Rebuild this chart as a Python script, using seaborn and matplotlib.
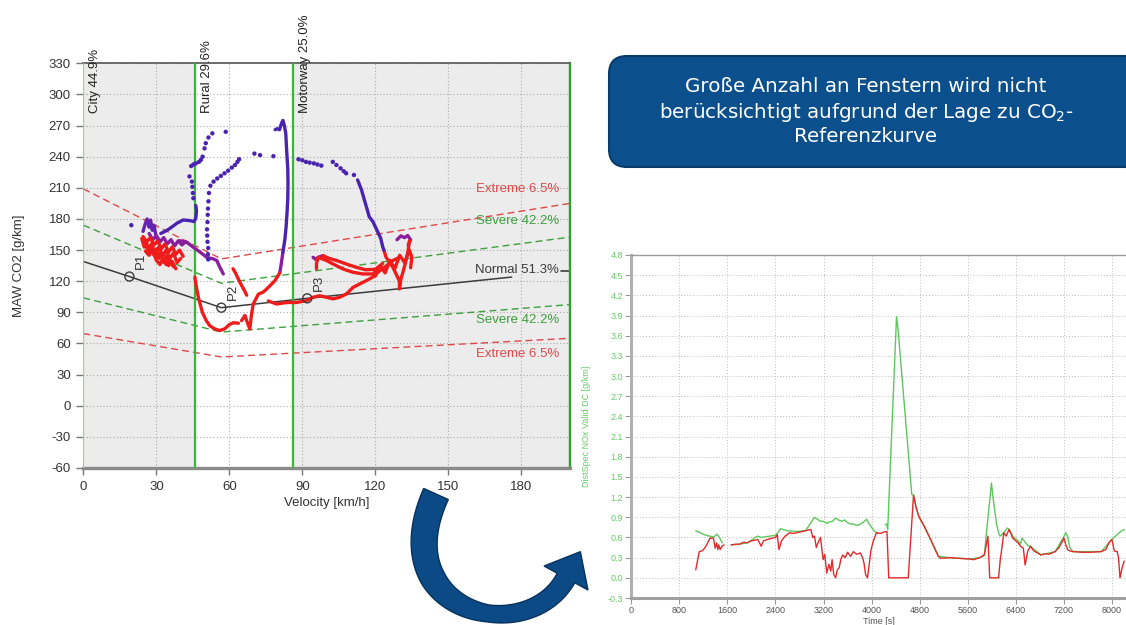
import numpy as np
import pandas as pd
import matplotlib
matplotlib.use("Agg")
import matplotlib.pyplot as plt
from matplotlib.patches import FancyBboxPatch, Polygon
import seaborn as sns

# ---------------- CO2 moving-average windows (velocity vs. CO2) ----------------
zone_edges = [0, 46, 86, 200]
zone_names = ["City", "Rural", "Motorway"]
zone_shares = [44.9, 29.6, 25.0]

band_vel = [0, 56.7, 200]
extreme_hi = [209, 141.5, 195]
severe_hi = [174, 118, 162.5]
severe_lo = [104, 71, 97.5]
extreme_lo = [69.5, 47, 65]

normal_vel = [0, 18.9, 56.7, 92.0, 176]
normal_co2 = [139, 124.5, 94.5, 103.5, 124]

point_names = ["P1", "P2", "P3"]
point_vel = [18.9, 56.7, 92.0]
point_co2 = [124.5, 94.5, 103.5]

band_label_names = ["Extreme", "Severe", "Normal", "Severe", "Extreme"]
band_label_shares = [6.5, 42.2, 51.3, 42.2, 6.5]
band_label_co2 = [209, 178.5, 130.5, 82.8, 50.2]

# window traces: (velocity km/h, CO2 g/km)
city_spike = [(24.5, 168), (25.5, 176), (26.2, 180), (27, 172), (27.6, 179), (28.3, 169),
              (29, 174), (29.8, 164), (30.5, 160)]
city_red_a = [(24, 161), (25, 153), (26, 157), (27, 148), (28, 154), (29, 145), (30, 151),
              (31, 142), (32, 148), (33, 138), (34, 144), (35, 135), (36.5, 139), (38, 132)]
city_red_b = [(24.5, 163), (26, 158), (27.5, 162), (29, 155), (30.5, 159), (32, 151),
              (33.5, 156), (35, 148), (36.5, 153), (38, 146), (39.5, 150), (41, 144)]
city_red_c = [(25.5, 149), (27, 145), (28.5, 150), (30, 140), (31.5, 136), (32.5, 142),
              (34, 136), (35.5, 141), (37, 134)]
city_red_d = [(25, 158), (26.5, 150), (28, 156), (29.5, 147), (31, 153), (32.5, 144),
              (34, 150), (35.5, 142), (37, 147), (38.5, 138), (40, 142)]
city_purple = [(27, 166), (28.5, 160), (30, 164), (31.5, 158), (33, 162), (34.5, 156),
               (36, 160), (37.5, 154), (39, 159), (40.5, 155), (42, 158)]
city_to_rural = [(39.75, 159), (42.5, 157.5), (45.2, 152.7), (48, 148), (50.7, 143),
                 (53.4, 141.5), (54.8, 140), (56.1, 133.4), (57.5, 127)]
rural_blue_line = [(31.8, 166), (33.5, 168), (35, 170), (36.5, 172.5), (38.5, 176), (41, 179),
                   (43.5, 178.5), (45.5, 177.5), (46.2, 181), (46.5, 188), (46.2, 193)]
rural_blue_dots = [(19.7, 174), (45.2, 200), (45.0, 205), (44.8, 211), (44.6, 216), (43.6, 221),
                   (44.3, 231), (45.2, 232.5), (46.2, 233.5), (47.5, 235), (48.3, 237), (49, 240),
                   (49.8, 248), (50.3, 253), (51.4, 258.5), (53, 262.5), (58.5, 264)]
loop_blue_dots = [(51.3, 141), (51.2, 146), (51.3, 152), (51.0, 158), (50.9, 164), (50.8, 170),
                  (51.0, 177), (51.1, 184), (51.2, 190), (51.4, 197), (51.6, 205), (52.2, 212),
                  (53.5, 216), (55, 219), (56.5, 221.5), (58, 224), (59.5, 226.5), (61, 229.5),
                  (62.3, 232), (63.3, 235), (64, 237.5), (70.3, 243), (72.6, 241.5), (78.1, 240.5)]
peak_purple = [(80.7, 128), (81.4, 138), (82, 148)]
peak_blue = [(82, 148), (82.8, 160), (83.3, 172), (83.7, 186), (84, 200), (84.1, 214),
             (84, 228), (83.7, 240), (83.4, 252), (83.2, 262), (82.6, 270), (82, 275),
             (81.4, 272), (80.6, 266), (79.6, 267), (78.8, 266)]
rural_red_loop = [(45.8, 124), (46.6, 112), (47.5, 102), (48.9, 90), (50.5, 82), (52, 77),
                  (54, 74), (56, 72.5), (58, 74), (59.9, 78), (61.6, 80), (63.7, 79.5)]
rural_red_climb = [(65, 82), (66.4, 87), (67.1, 82), (68.4, 74), (69.1, 88), (69.8, 98),
                   (71.9, 107.5), (73.9, 109.5), (76, 114), (78.7, 120.5), (80.7, 128)]
p2_red = [(61.5, 132), (62.5, 128), (63.7, 122), (65, 116), (66.2, 111), (67.1, 106.5)]
motorway_red_low = [(76, 101), (79.4, 98), (83.5, 99.5), (87.6, 99.5), (91.7, 101.3),
                    (94.4, 104.5), (97.1, 106), (99.9, 104.5), (102.6, 103), (105.3, 104.5),
                    (108.1, 107.7), (110.8, 114), (113.5, 117.3), (116.3, 120.6), (119, 124),
                    (121.7, 130), (123.8, 133.4), (127.2, 140), (129.9, 143)]
motorway_purple_start = [(94.4, 143), (95.5, 141), (96.5, 143), (98.5, 144.7)]
motorway_red_mid = [(95.8, 132), (95.8, 137), (96.5, 143), (99.9, 140), (102.6, 136.6),
                    (106.7, 131.8), (110.8, 128.6), (114.9, 127), (119, 127), (121.7, 133.4)]
motorway_red_high = [(98.5, 144.7), (101, 142), (104, 140), (108, 136.6), (112.2, 133.4),
                     (116, 131), (120, 131.5), (123, 137)]
motorway_blue_dots = [(88.4, 237.5), (90, 236.5), (91.5, 235), (93, 234.3), (94.7, 233.6),
                      (96.2, 232.5), (97.8, 231.4), (102.5, 235), (104, 232), (105.7, 228.8),
                      (107, 226), (108, 224), (111.2, 222.4)]
motorway_blue_line = [(112.7, 217.6), (114.3, 208), (115.9, 195), (117.5, 182), (119, 177.4),
                      (120.6, 169.4), (122.2, 161.4), (123, 153.3), (123.5, 150)]
tangle_red_a = [(123.5, 150), (124.4, 143), (126, 138), (127.2, 133.4), (128.5, 127),
                (129.9, 120), (129.9, 112.5), (130.5, 122), (131.5, 130), (132.6, 140),
                (133.5, 150), (134, 159)]
tangle_red_b = [(120, 125), (122, 135), (124, 128), (126, 140), (128, 132), (130, 145),
                (132, 138), (134, 150), (135, 143), (134.5, 133)]
tangle_purple = [(128.9, 160), (130.5, 163.7), (132, 162), (133.3, 164), (134.5, 160),
                 (133.5, 155)]

line_traces = [
    ("city_spike", "violet", city_spike),
    ("city_purple", "purple", city_purple),
    ("city_red_a", "red", city_red_a),
    ("city_red_b", "red", city_red_b),
    ("city_red_c", "red", city_red_c),
    ("city_red_d", "red", city_red_d),
    ("city_to_rural", "purple", city_to_rural),
    ("rural_blue_line", "blue", rural_blue_line),
    ("peak_purple", "purple", peak_purple),
    ("peak_blue", "blue", peak_blue),
    ("rural_red_loop", "red", rural_red_loop),
    ("rural_red_climb", "red", rural_red_climb),
    ("p2_red", "red", p2_red),
    ("motorway_red_low", "red", motorway_red_low),
    ("motorway_red_mid", "red", motorway_red_mid),
    ("motorway_red_high", "red", motorway_red_high),
    ("motorway_purple_start", "purple", motorway_purple_start),
    ("motorway_blue_line", "blue", motorway_blue_line),
    ("tangle_red_a", "red", tangle_red_a),
    ("tangle_red_b", "red", tangle_red_b),
    ("tangle_purple", "purple", tangle_purple),
]
dot_traces = [
    ("rural_blue_dots", "blue", rural_blue_dots),
    ("loop_blue_dots", "blue", loop_blue_dots),
    ("motorway_blue_dots", "blue", motorway_blue_dots),
]

# ---------------- NOx over time ----------------
nan = np.nan
nox_green_time = [1073, 1150, 1220, 1300, 1380, 1420, 1460, 1515, nan,
                  1662, 1800, 1928, 2000, 2060, 2105, 2163, 2300, 2400, 2488, 2600, 2753, 2900,
                  2989, 3048, 3100, 3150, 3200, 3254, 3300, 3350, 3401, 3450, 3500, 3550, 3600,
                  3650, 3700, 3750, 3800, 3850, 3920, 3960, 4000, 4050, 4100, nan,
                  4227, 4250, 4268, 4415, 4440, 4669, 4698, 4740, 4787, 4875, 4993, 5111, 5300,
                  5641, 5800, 5877, 5906, 5995, 6020, 6080, 6120, 6142, 6200, 6260, 6290, 6350,
                  6438, 6480, 6500, 6540, 6600, 6644, 6820, 7056, 7180, 7233, 7262, 7300, 7351,
                  7823, 7950, 8000, 8060, 8147, 8206]
nox_green_value = [0.70, 0.67, 0.64, 0.62, 0.61, 0.65, 0.61, 0.52, nan,
                   0.49, 0.50, 0.52, 0.56, 0.60, 0.62, 0.60, 0.62, 0.63, 0.73, 0.70, 0.69, 0.70,
                   0.82, 0.90, 0.87, 0.84, 0.84, 0.81, 0.83, 0.84, 0.89, 0.86, 0.84, 0.86, 0.82,
                   0.80, 0.80, 0.78, 0.79, 0.82, 0.87, 0.80, 0.75, 0.69, 0.66, nan,
                   0.79, 0.80, 0.72, 3.88, 3.70, 1.24, 1.23, 1.05, 0.91, 0.77, 0.55, 0.32, 0.30,
                   0.28, 0.30, 0.34, 0.62, 1.41, 1.20, 0.80, 0.65, 0.62, 0.67, 0.74, 0.72, 0.62,
                   0.55, 0.50, 0.59, 0.55, 0.48, 0.47, 0.34, 0.39, 0.58, 0.67, 0.62, 0.45, 0.39,
                   0.39, 0.52, 0.57, 0.62, 0.69, 0.72]
nox_red_time = [1073, 1132, 1180, 1220, 1260, 1309, 1368, 1397, 1420, 1440, 1456, 1480, 1510,
                1545, nan,
                1662, 1740, 1800, 1870, 1928, 2000, 2060, 2105, 2163, 2200, 2300, 2400, 2430,
                2458, 2500, 2560, 2635, 2700, 2800, 2900, 2989, 3020, 3048, 3080, 3107, 3150,
                3175, 3195, 3220, 3254, 3290, 3320, 3342, 3370, 3401, 3430, 3460, 3490, 3519,
                3560, 3600, 3650, 3696, 3750, 3814, 3850, 3873, 3900, 3932, 3960, 3991, 4030,
                4080, 4150, 4200, 4256, 4285, 4610, 4698, 4740, 4787, 4875, 4993, 5111, 5150,
                5300, 5450, 5641, 5700, 5800, 5877, 5936, 5966, 6113, 6142, 6170, 6200, 6240,
                6290, 6350, 6400, 6438, 6480, 6526, 6556, 6600, 6644, 6700, 6760, 6820, 6900,
                6950, 7056, 7120, 7180, 7203, 7230, 7262, 7300, 7351, 7500, 7650, 7823, 7900,
                7950, 8000, 8040, 8088, 8110, 8135, 8170, 8206]
nox_red_value = [0.12, 0.39, 0.40, 0.44, 0.50, 0.59, 0.59, 0.44, 0.52, 0.42, 0.49, 0.42, 0.47,
                 0.49, nan,
                 0.49, 0.50, 0.50, 0.53, 0.52, 0.55, 0.56, 0.57, 0.47, 0.55, 0.58, 0.60, 0.64,
                 0.42, 0.55, 0.62, 0.67, 0.66, 0.68, 0.70, 0.72, 0.60, 0.62, 0.45, 0.52, 0.60,
                 0.40, 0.27, 0.35, 0.07, 0.20, 0.10, 0.27, 0.05, 0.00, 0.12, 0.15, 0.28, 0.34,
                 0.30, 0.38, 0.32, 0.39, 0.35, 0.37, 0.30, 0.22, 0.05, 0.00, 0.20, 0.42, 0.55,
                 0.67, 0.66, 0.68, 0.69, 0.00, 0.00, 1.23, 1.05, 0.91, 0.77, 0.55, 0.32, 0.29,
                 0.30, 0.29, 0.28, 0.27, 0.30, 0.34, 0.62, 0.00, 0.00, 0.27, 0.45, 0.67, 0.62,
                 0.72, 0.59, 0.55, 0.52, 0.47, 0.44, 0.19, 0.40, 0.47, 0.40, 0.37, 0.34, 0.36,
                 0.35, 0.39, 0.45, 0.55, 0.59, 0.50, 0.42, 0.40, 0.39, 0.38, 0.38, 0.39, 0.42,
                 0.52, 0.57, 0.40, 0.39, 0.30, 0.00, 0.15, 0.25]

message_lines = ["Große Anzahl an Fenstern wird nicht",
                 "berücksichtigt aufgrund der Lage zu CO$_2$-",
                 "Referenzkurve"]

# ---------------- figure ----------------
sns.set_theme(style="white")
plt.rcParams["font.family"] = ["Liberation Sans", "DejaVu Sans"]
plt.rcParams["mathtext.fontset"] = "dejavusans"
plt.rcParams["axes.unicode_minus"] = False

W, H = 1126, 625
fig = plt.figure(figsize=(W / 100, H / 100), dpi=100)
fig.patch.set_facecolor("white")


def px_box(x0, y0, x1, y1):
    return [x0 / W, 1 - y1 / H, (x1 - x0) / W, (y1 - y0) / H]


def trace_frame(traces):
    rows = [(name, tone, v, c) for name, tone, pts in traces for v, c in pts]
    return pd.DataFrame(rows, columns=["trace", "tone", "vel", "co2"])


tone_colors = {"red": "#f01c1c", "purple": "#8a1f9e", "blue": "#4a23b0", "violet": "#6424b0"}
RED, GREEN, DARK = "#e04848", "#3d9f3d", "#3c3c3c"

ax = fig.add_axes(px_box(83.4, 63.3, 570, 468))
ax.set_xlim(0, 200)
ax.set_ylim(-60, 330)
ax.set_facecolor("white")
zone_fill = ["#ececec", "#ffffff", "#ececec"]
for a, b, c in zip(zone_edges[:-1], zone_edges[1:], zone_fill):
    ax.axvspan(a, b, color=c, zorder=0, lw=0)
ax.set_xticks(range(0, 181, 30))
ax.set_yticks(range(-60, 331, 30))
ax.grid(True, color="#ababab", linestyle=(0, (1, 2)), lw=0.8)
ax.set_axisbelow(True)

zone_line_colors = ["#8edc8e", "#35b835", "#35b835", "#2aa52a"]
for x, c in zip(zone_edges, zone_line_colors):
    ax.axvline(x, color=c, lw=1.6, zorder=3)
for edge, name, share in zip(zone_edges, zone_names, zone_shares):
    ax.text(edge + 4.9, 282, f"{name} {share:.1f}%", rotation=90, ha="center", va="bottom",
            fontsize=9.5, color="#222222", clip_on=False)

dash = (0, (5, 3))
for vals, col in [(extreme_hi, RED), (severe_hi, GREEN), (severe_lo, GREEN), (extreme_lo, RED)]:
    sns.lineplot(x=band_vel, y=vals, ax=ax, color=col, lw=1.0, linestyle=dash, zorder=2)
sns.lineplot(x=normal_vel, y=normal_co2, ax=ax, color=DARK, lw=1.1, zorder=2)
ax.plot([196.5, 200], [129.5, 129.5], color=DARK, lw=1.2, zorder=2)

label_colors = [RED, GREEN, DARK, GREEN, RED]
for name, share, y, col in zip(band_label_names, band_label_shares, band_label_co2, label_colors):
    ax.text(195.5, y, f"{name} {share:.1f}%", ha="right", va="center", fontsize=9.5, color=col)

lines_df = trace_frame(line_traces)
dots_df = trace_frame(dot_traces)
sns.lineplot(data=lines_df, x="vel", y="co2", units="trace", estimator=None, hue="tone",
             palette=tone_colors, sort=False, lw=2.4, legend=False, ax=ax, zorder=4)
sns.scatterplot(data=dots_df, x="vel", y="co2", hue="tone", palette=tone_colors, s=10,
                linewidth=0, legend=False, ax=ax, zorder=4)

ax.scatter(point_vel, point_co2, s=42, facecolors="none", edgecolors=DARK, lw=1, zorder=6)
for name, v, c in zip(point_names, point_vel, point_co2):
    ax.text(v + 4.7, c + 7, name, rotation=90, ha="center", va="bottom", fontsize=9.5,
            color="#333333")

ax.tick_params(axis="both", direction="out", length=5, width=1, color="#777777",
               labelsize=9.5, labelcolor="#333333", pad=4, bottom=True, left=True)
ax.spines["left"].set_visible(False)
ax.spines["top"].set_color("#555555")
ax.spines["top"].set_linewidth(1.2)
ax.spines["right"].set_color("#2aa52a")
ax.spines["right"].set_linewidth(1.6)
ax.spines["bottom"].set_color("#8a8a8a")
ax.spines["bottom"].set_linewidth(2.4)
ax.set_xlabel("Velocity [km/h]", fontsize=9.5, color="#333333", labelpad=3)
ax.set_ylabel("MAW CO2 [g/km]", fontsize=9.5, color="#333333")
ax.yaxis.set_label_coords(-0.12, 0.5)

# ---------------- NOx time chart ----------------
def segment_frame(times, values):
    t = np.asarray(times, float)
    v = np.asarray(values, float)
    seg = np.cumsum(np.isnan(v))
    return pd.DataFrame({"t": t, "v": v, "seg": seg}).dropna()


ax2 = fig.add_axes(px_box(631.3, 255, 1126, 598))
ax2.set_xlim(0, (1126 - 631.3) / 48.06 * 800)
ax2.set_ylim(-0.3, 4.8)
ax2.set_facecolor("white")
ax2.set_xticks(range(0, 8001, 800))
yt = [i * 0.3 for i in range(-1, 17)]
ax2.set_yticks(yt)
ax2.set_yticklabels([f"{v:.1f}" for v in yt])
ax2.grid(True, color="#bdbdbd", linestyle=(0, (1, 2)), lw=0.7)
ax2.set_axisbelow(True)

sns.lineplot(data=segment_frame(nox_green_time, nox_green_value), x="t", y="v", units="seg",
             estimator=None, sort=False, color="#5cc85c", lw=1.0, ax=ax2)
sns.lineplot(data=segment_frame(nox_red_time, nox_red_value), x="t", y="v", units="seg",
             estimator=None, sort=False, color="#e02b2b", lw=1.0, ax=ax2)

ax2.tick_params(axis="both", direction="out", length=4, width=0.8, color="#999999",
                labelsize=6.5, pad=2, bottom=True, left=True)
ax2.tick_params(axis="y", labelcolor="#66cc66")
ax2.tick_params(axis="x", labelcolor="#555555")
ax2.spines["right"].set_visible(False)
ax2.spines["top"].set_color("#9a9a9a")
ax2.spines["top"].set_linewidth(1.0)
ax2.spines["left"].set_color("#b0b0b0")
ax2.spines["left"].set_linewidth(2.2)
ax2.spines["bottom"].set_color("#a0a0a0")
ax2.spines["bottom"].set_linewidth(2.2)
ax2.set_ylabel("DistSpec NOx Valid DC [g/km]", fontsize=6.5, color="#66cc66")
ax2.yaxis.set_label_coords(-0.081, 0.5)
ax2.set_xlabel("Time [s]", fontsize=6.5, color="#555555", labelpad=1)

# ---------------- message box and arrow (pixel overlay) ----------------
ov = fig.add_axes([0, 0, 1, 1])
ov.set_xlim(0, W)
ov.set_ylim(H, 0)
ov.axis("off")
ov.patch.set_alpha(0)

box = FancyBboxPatch((609, 56), 560, 111, boxstyle="round,pad=0,rounding_size=18",
                     fc="#0b4f8c", ec="#083b6b", lw=1.5)
ov.add_patch(box)
for y, line in zip([86, 112, 137], message_lines):
    ov.text(866, y, line, ha="center", va="center", fontsize=14.3, color="white",
            family="DejaVu Sans")

p0, p1, p2, p3 = map(np.array, [(436, 494), (382, 614), (527.6, 648.4), (566, 578)])
t = np.linspace(0, 1, 80)[:, None]
centre = (1 - t) ** 3 * p0 + 3 * (1 - t) ** 2 * t * p1 + 3 * (1 - t) * t ** 2 * p2 + t ** 3 * p3
deriv = 3 * (1 - t) ** 2 * (p1 - p0) + 6 * (1 - t) * t * (p2 - p1) + 3 * t ** 2 * (p3 - p2)
tang = deriv / np.linalg.norm(deriv, axis=1, keepdims=True)
normal = np.column_stack([-tang[:, 1], tang[:, 0]])
half = np.interp(t[:, 0], [0, 0.3, 0.6, 1], [27, 25, 17, 20])[:, None] / 2
side_a = centre + normal * half
side_b = centre - normal * half
d_end, n_end = tang[-1], normal[-1]
head = [p3 + n_end * 25, p3 + d_end * 30, p3 - n_end * 25]
outline = np.vstack([side_a, head[:1], head[1:2], head[2:], side_b[::-1]])
ov.add_patch(Polygon(outline, closed=True, fc="#0c4a86", ec="#06325c", lw=1.0))

fig.savefig("out.png", dpi=100)
